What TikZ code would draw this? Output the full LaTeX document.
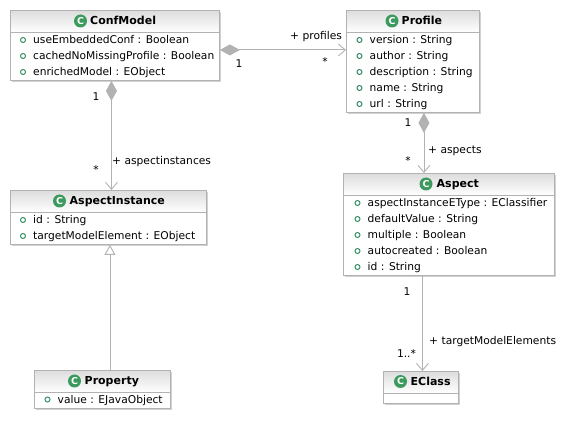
\documentclass[tikz,border=0pt]{standalone}
\usepackage{fontspec}
\setmainfont{DejaVu Sans}
\usetikzlibrary{arrows.meta,shadows}
\definecolor{umlline}{HTML}{B2B2B2}
\definecolor{umlgreen}{HTML}{3C9A5F}
\definecolor{umldot}{HTML}{2F8F62}
\definecolor{umlhead}{HTML}{DDDDDD}
\tikzset{
  classbox/.style={rectangle, draw=umlline, fill=white, anchor=north west, inner sep=0pt, line width=0.9pt, drop shadow={shadow xshift=1.5pt, shadow yshift=-1.5pt, fill=black!18, opacity=1}},
  classhead/.style={rectangle, draw=umlline, top color=umlhead, bottom color=white, anchor=north west, inner sep=0pt, line width=0.9pt, minimum height=22pt},
  classname/.style={anchor=west, inner sep=0pt, text height=10pt, text depth=2pt, font=\fontsize{11}{11}\selectfont\bfseries},
  classicon/.style={circle, fill=umlgreen, text=white, inner sep=0pt, minimum size=13pt, font=\fontsize{9.5}{9.5}\selectfont\bfseries},
  attrdot/.style={circle, draw=umldot, fill=white, line width=1pt, inner sep=0pt, minimum size=5pt},
  attr/.style={anchor=west, inner sep=0pt, text height=10pt, text depth=2pt, font=\fontsize{10.7}{11}\selectfont, label={[attrdot, label distance=7pt]left:}},
  endlabel/.style={inner sep=0pt, text height=10pt, text depth=2pt, font=\fontsize{10.7}{11}\selectfont},
  rolelabel/.style={endlabel, anchor=west},
  comp/.style={draw=umlline, line width=0.9pt, {Diamond[fill=umlline, length=20pt, width=11pt]}-{Straight Barb[length=7pt, width=12pt, line width=0.9pt]}},
  assoc/.style={draw=umlline, line width=0.9pt, -{Straight Barb[length=7pt, width=12pt, line width=0.9pt]}},
  gener/.style={draw=umlline, line width=0.9pt, -{Triangle[open, fill=white, length=10pt, width=11pt]}},
}
\begin{document}
\begin{tikzpicture}[x=1pt, y=-1pt]
\useasboundingbox (0,0) rectangle (582,422);
% classes
\node[classbox, minimum width=209pt, minimum height=70pt] (confmodel) at (10,10) {};
\node[classhead, minimum width=209pt] (confmodelhead) at (10,10) {};
\node[classicon] (confmodelicon) at (80.5,21) {C};
\node[classname] (confmodelname) at (90,21) {ConfModel};
\node[attr] (confa) at (33,40) {useEmbeddedConf : Boolean};
\node[attr] (confb) at (33,56) {cachedNoMissingProfile : Boolean};
\node[attr] (confc) at (33,72) {enrichedModel : EObject};

\node[classbox, minimum width=133pt, minimum height=102pt] (profile) at (346,10) {};
\node[classhead, minimum width=133pt] (profilehead) at (346,10) {};
\node[classicon] (profileicon) at (392,21) {C};
\node[classname] (profilename) at (401.5,21) {Profile};
\node[attr] (profa) at (369.5,40) {version : String};
\node[attr] (profb) at (369.5,56) {author : String};
\node[attr] (profc) at (369.5,72) {description : String};
\node[attr] (profd) at (369.5,88) {name : String};
\node[attr] (profe) at (369.5,104) {url : String};

\node[classbox, minimum width=196pt, minimum height=54pt] (aspectinstance) at (10,190) {};
\node[classhead, minimum width=196pt] (aspectinstancehead) at (10,190) {};
\node[classicon] (aspectinstanceicon) at (59.5,201) {C};
\node[classname] (aspectinstancename) at (69.5,201) {AspectInstance};
\node[attr] (aia) at (33,220) {id : String};
\node[attr] (aib) at (33,236) {targetModelElement : EObject};

\node[classbox, minimum width=136pt, minimum height=38pt] (property) at (34,370) {};
\node[classhead, minimum width=136pt] (propertyhead) at (34,370) {};
\node[classicon] (propertyicon) at (74.5,381) {C};
\node[classname] (propertyname) at (84.5,381) {Property};
\node[attr] (propa) at (57.5,399.5) {value : EJavaObject};

\node[classbox, minimum width=211pt, minimum height=102pt] (aspect) at (343,173) {};
\node[classhead, minimum width=211pt] (aspecthead) at (343,173) {};
\node[classicon] (aspecticon) at (426,184) {C};
\node[classname] (aspectname) at (436.5,184) {Aspect};
\node[attr] (aspa) at (367.5,203) {aspectInstanceEType : EClassifier};
\node[attr] (aspb) at (367.5,219) {defaultValue : String};
\node[attr] (aspc) at (367.5,235) {multiple : Boolean};
\node[attr] (aspd) at (367.5,251) {autocreated : Boolean};
\node[attr] (aspe) at (367.5,267) {id : String};

\node[classbox, minimum width=75pt, minimum height=32pt] (eclass) at (383,371) {};
\node[classhead, minimum width=75pt] (eclasshead) at (383,371) {};
\node[classicon] (eclassicon) at (400.5,381.5) {C};
\node[classname] (eclassname) at (410.5,381.5) {EClass};
% connectors
\draw[comp] ([yshift=-4.5pt]confmodel.east) -- ([yshift=11.5pt]profile.west);
\draw[comp] ([xshift=-3.5pt]confmodel.south) -- ([xshift=3pt]aspectinstance.north);
\draw[comp] ([xshift=11pt]profile.south) -- ([xshift=-25pt]aspect.north);
\draw[gener] ([xshift=7.5pt]property.north) -- ([xshift=1.5pt]aspectinstance.south);
\draw[assoc] ([xshift=-26.5pt]aspect.south) -- ([xshift=1.5pt]eclass.north);
% labels
\node[rolelabel] (lprofiles) at (290,35.5) {+ profiles};
\node[endlabel] (lconfone) at (239,64) {1};
\node[endlabel] (lprofmany) at (325,62) {*};
\node[rolelabel] (linstances) at (112,161) {+ aspectinstances};
\node[endlabel] (lconftwo) at (96,97) {1};
\node[endlabel] (linstmany) at (96,170) {*};
\node[rolelabel] (laspects) at (428,150) {+ aspects};
\node[endlabel] (lprofone) at (408,123) {1};
\node[endlabel] (laspmany) at (408,161) {*};
\node[rolelabel] (ltarget) at (429,341) {+ targetModelElements};
\node[endlabel] (laspone) at (407,292) {1};
\node[endlabel] (lclassmany) at (406.5,354) {1..*};
\end{tikzpicture}
\end{document}
